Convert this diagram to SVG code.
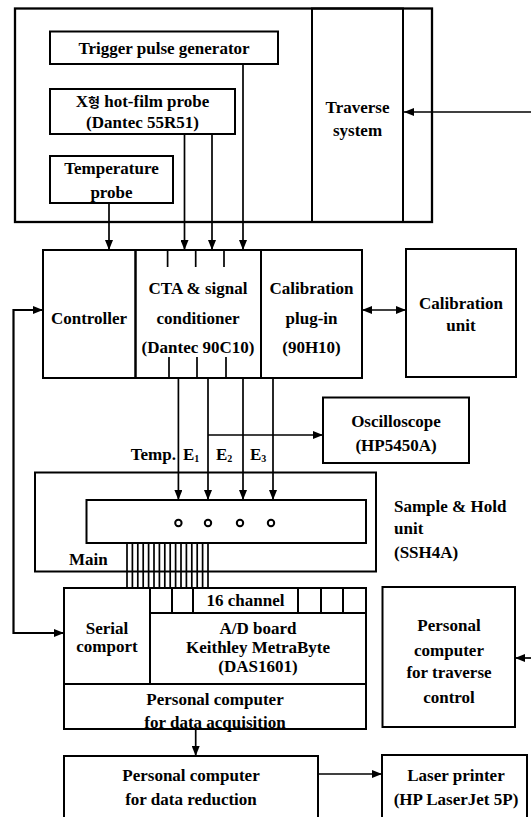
<svg xmlns="http://www.w3.org/2000/svg" width="531" height="817" viewBox="0 0 531 817">
<style>
.box{fill:none;stroke:#000;stroke-width:2}
.ln{fill:none;stroke:#000;stroke-width:1.7}
text{font-family:'Liberation Serif','Times New Roman',serif;font-size:17px;font-weight:700;text-anchor:middle;dominant-baseline:central;fill:#000}
.k{font-family:'Noto Sans CJK KR',sans-serif;font-size:13px}
.l{text-anchor:start}
.s{font-size:10px}
</style>
<defs>
<marker id="ah" viewBox="0 0 10 8" refX="10" refY="4" markerWidth="10" markerHeight="8" orient="auto-start-reverse" markerUnits="userSpaceOnUse"><path d="M0,0 L10,4 L0,8 z" fill="#000"/></marker>
</defs>
<rect width="531" height="817" fill="#fff"/>

<g id="outer-frame">
<rect class="box" x="15" y="8.5" width="417" height="213.5" style="stroke-width:2.3"/>
</g>
<g id="trigger">
<rect class="box" x="50" y="31.5" width="228" height="32.5"/>
<text x="164" y="48" font-family="DejaVu Serif">Trigger pulse generator</text>
</g>
<g id="xprobe">
<rect class="box" x="50" y="89" width="185" height="45"/>
<text x="142.5" y="101">X<tspan class="k">형</tspan> hot-film probe</text>
<text x="142.5" y="122">(Dantec 55R51)</text>
</g>
<g id="tempprobe">
<rect class="box" x="50" y="156" width="123" height="47"/>
<text x="111.5" y="168">Temperature</text>
<text x="111.5" y="192">probe</text>
</g>
<g id="traverse">
<rect class="box" x="312" y="8.5" width="91" height="213.5"/>
<text x="357.5" y="107">Traverse</text>
<text x="357.5" y="130">system</text>
</g>

<g id="controller">
<rect class="box" x="43" y="250" width="92.5" height="128"/>
<text x="89" y="318">Controller</text>
</g>
<g id="cta">
<rect class="box" x="135.5" y="250" width="125.5" height="128"/>
<text x="198" y="288">CTA &amp; signal</text>
<text x="198" y="318">conditioner</text>
<text x="198" y="347">(Dantec 90C10)</text>
<path class="ln" d="M167.6,250V267M195.7,250V267M224,250V267M169,357V378M197,357V378M226,357V378"/>
</g>
<g id="calplugin">
<rect class="box" x="261" y="250" width="101" height="128"/>
<text x="311.5" y="288">Calibration</text>
<text x="311.5" y="318">plug-in</text>
<text x="311.5" y="347">(90H10)</text>
</g>
<g id="calunit">
<rect class="box" x="406" y="249" width="110" height="128"/>
<text x="461" y="303">Calibration</text>
<text x="461" y="325">unit</text>
</g>

<g id="oscilloscope">
<rect class="box" x="323" y="397.5" width="146" height="65.5"/>
<text x="396" y="421">Oscilloscope</text>
<text x="396" y="445">(HP5450A)</text>
</g>

<g id="samplehold">
<rect class="box" x="35" y="472.5" width="341" height="99"/>
<rect class="box" x="86.5" y="500" width="279.5" height="43"/>
<circle cx="178.4" cy="523" r="3.2" fill="none" stroke="#000" stroke-width="2"/>
<circle cx="208" cy="523" r="3.2" fill="none" stroke="#000" stroke-width="2"/>
<circle cx="240" cy="523" r="3.2" fill="none" stroke="#000" stroke-width="2"/>
<circle cx="271" cy="523" r="3.2" fill="none" stroke="#000" stroke-width="2"/>
<text class="l" x="69" y="559">Main</text>
<text class="l" x="394" y="506">Sample &amp; Hold</text>
<text class="l" x="394" y="528">unit</text>
<text class="l" x="394" y="552">(SSH4A)</text>
</g>

<g id="daq-pc">
<rect class="box" x="64" y="588" width="302" height="141"/>
<path class="ln" d="M150,588V684M64,684H366M150,613H366M172,588V613M193,588V613M298,588V613M321,588V613M343,588V613" style="stroke-width:2"/>
<text x="245.5" y="600">16 channel</text>
<text x="107" y="628">Serial</text>
<text x="107" y="646">comport</text>
<text x="258" y="628">A/D board</text>
<text x="258" y="647">Keithley MetraByte</text>
<text x="258" y="666">(DAS1601)</text>
<text x="215" y="699">Personal computer</text>
<text x="215" y="722">for data acquisition</text>
</g>

<g id="traverse-pc">
<rect class="box" x="382.5" y="587" width="132.5" height="140"/>
<text x="449" y="625">Personal</text>
<text x="449" y="650">computer</text>
<text x="449" y="672">for traverse</text>
<text x="449" y="697">control</text>
</g>

<g id="reduction-pc">
<rect class="box" x="64" y="756" width="254" height="80"/>
<text x="191" y="775">Personal computer</text>
<text x="191" y="799">for data reduction</text>
</g>

<g id="printer">
<rect class="box" x="382" y="755" width="145" height="80"/>
<text x="456" y="775">Laser printer</text>
<text x="456" y="799">(HP LaserJet 5P)</text>
</g>

<g id="labels">
<text x="176" y="454" style="text-anchor:end">Temp.</text>
<text class="l" x="183" y="454">E<tspan class="s" dy="4">1</tspan></text>
<text class="l" x="216" y="454">E<tspan class="s" dy="4">2</tspan></text>
<text class="l" x="250" y="454">E<tspan class="s" dy="4">3</tspan></text>
</g>

<g id="connectors">
<path class="ln" d="M109,203V250" marker-end="url(#ah)"/>
<path class="ln" d="M184.5,134V250" marker-end="url(#ah)"/>
<path class="ln" d="M212,134V250" marker-end="url(#ah)"/>
<path class="ln" d="M243,64V250" marker-end="url(#ah)"/>
<path class="ln" d="M531,112H404" marker-end="url(#ah)"/>
<path class="ln" d="M362,310H406" marker-start="url(#ah)" marker-end="url(#ah)"/>
<path class="ln" d="M43,310H13.5V633H64" marker-start="url(#ah)" marker-end="url(#ah)" style="stroke-width:2.2"/>
<path class="ln" d="M178.4,378V500" marker-end="url(#ah)"/>
<path class="ln" d="M208,378V500" marker-end="url(#ah)"/>
<path class="ln" d="M243,378V500" marker-end="url(#ah)"/>
<path class="ln" d="M273,378V500" marker-end="url(#ah)"/>
<path class="ln" d="M208,435H323" marker-end="url(#ah)"/>
<path class="ln" d="M127,543V588M132.4,543V588M137.8,543V588M143.2,543V588M148.6,543V588M154,543V588M159.4,543V588M164.8,543V588M170.2,543V588M175.6,543V588M181,543V588M186.4,543V588M191.8,543V588M197.2,543V588M202.6,543V588M208,543V588"/>
<path class="ln" d="M195.7,729V756" marker-end="url(#ah)"/>
<path class="ln" d="M318,774H382" marker-end="url(#ah)"/>
<path class="ln" d="M531,658H515" marker-end="url(#ah)"/>
</g>
</svg>
